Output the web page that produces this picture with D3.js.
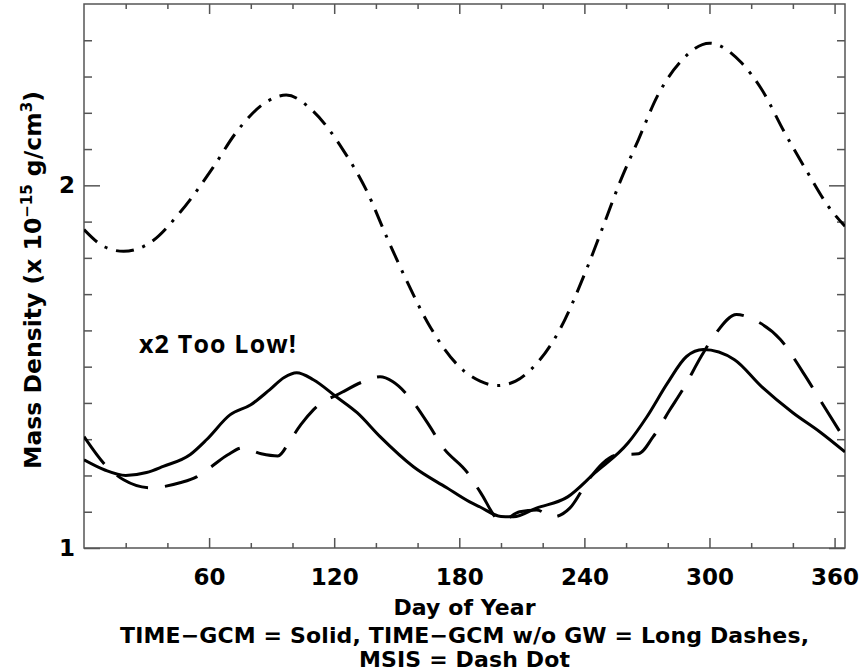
<!DOCTYPE html>
<html>
  <head>
    <title>Mass Density vs Day of Year</title>
    <script src="https://cdn.jsdelivr.net/npm/d3@7"></script>
    <style>
      body { margin: 0; background: white; }
      text { font-family: "DejaVu Sans", sans-serif; font-weight: bold; fill: black; }
      .frame { fill: none; stroke: #555; stroke-width: 1.5; }
      .tick line { stroke: #555; stroke-width: 1.5; }
      .domain { display: none; }
      .series { fill: none; stroke: black; stroke-width: 3; }
    </style>
  </head>
  <body>
    <svg id="chart" width="860" height="671"></svg>
    <script>
      // TIME-GCM (solid)
      const gcmDay = [0, 10, 20, 30, 38, 51, 59, 70, 80, 89, 96, 102, 110, 121, 131, 142, 158, 174, 185, 190, 200, 206, 217, 232, 245, 261, 270, 280, 289, 297, 312, 325, 340, 353, 365];
      const gcmVal = [1.243, 1.215, 1.2, 1.208, 1.225, 1.258, 1.3, 1.367, 1.395, 1.436, 1.47, 1.483, 1.464, 1.417, 1.373, 1.307, 1.224, 1.166, 1.127, 1.113, 1.087, 1.086, 1.11, 1.141, 1.207, 1.29, 1.362, 1.456, 1.528, 1.547, 1.519, 1.445, 1.373, 1.32, 1.265];

      // TIME-GCM without gravity waves (long dashes)
      const noGwDay = [0, 11, 19, 32, 46, 54, 61, 69, 76, 85, 93, 99, 104, 110, 124, 134, 142, 148, 157, 166, 172, 184, 190, 200, 209, 217, 225, 233, 242, 249, 256, 266, 273, 281, 288, 296, 302, 313, 321, 334, 345, 355, 365];
      const noGwVal = [1.307, 1.224, 1.188, 1.166, 1.18, 1.196, 1.224, 1.257, 1.276, 1.26, 1.254, 1.298, 1.34, 1.381, 1.43, 1.459, 1.472, 1.459, 1.409, 1.334, 1.279, 1.207, 1.155, 1.075, 1.1, 1.105, 1.086, 1.11, 1.188, 1.235, 1.257, 1.26, 1.307, 1.381, 1.445, 1.528, 1.583, 1.644, 1.63, 1.575, 1.483, 1.39, 1.298];

      // MSIS (dash dot)
      const msisDay = [0, 10, 19, 32, 46, 62, 73, 88, 97, 110, 124, 136, 145, 154, 165, 180, 190, 198, 207, 214, 228, 241, 249, 257, 266, 275, 286, 300, 315, 325, 336, 347, 357, 365];
      const msisVal = [1.878, 1.83, 1.818, 1.843, 1.925, 2.05, 2.146, 2.232, 2.249, 2.204, 2.1, 1.98, 1.86, 1.746, 1.62, 1.5, 1.46, 1.448, 1.46, 1.49, 1.6, 1.768, 1.887, 2.008, 2.127, 2.246, 2.34, 2.392, 2.34, 2.265, 2.146, 2.036, 1.942, 1.887];

      const xMajor = [60, 120, 180, 240, 300, 360];
      const yMajor = [1, 2];

      const svg = d3.select("#chart");
      const plotLeft = 84, plotRight = 845, plotTop = 4, plotBottom = 548;

      const x = d3.scaleLinear().domain([0, 365]).range([plotLeft, plotRight]);
      const y = d3.scaleLinear().domain([1, 2.5]).range([plotBottom, plotTop]);

      // ticks, IDL style: all pointing inward, mirrored on the opposite side
      const xMinor = d3.range(20, 365, 20).filter((d) => d % 60 !== 0);
      const yMinor = d3.range(11, 25).map((k) => k / 10).filter((v) => Math.abs(v - 2) > 1e-6);

      svg.append("g").attr("transform", `translate(0,${plotBottom})`)
        .call(d3.axisBottom(x).tickValues(xMinor).tickSize(-5).tickFormat(""));
      svg.append("g").attr("transform", `translate(0,${plotBottom})`)
        .call(d3.axisBottom(x).tickValues(xMajor).tickSize(-10).tickPadding(21))
        .selectAll("text").attr("font-size", 23);
      svg.append("g").attr("transform", `translate(0,${plotTop})`)
        .call(d3.axisTop(x).tickValues(xMinor).tickSize(-5).tickFormat(""));
      svg.append("g").attr("transform", `translate(0,${plotTop})`)
        .call(d3.axisTop(x).tickValues(xMajor).tickSize(-10).tickFormat(""));

      svg.append("g").attr("transform", `translate(${plotLeft},0)`)
        .call(d3.axisLeft(y).tickValues(yMinor).tickSize(-8).tickFormat(""));
      svg.append("g").attr("transform", `translate(${plotLeft},0)`)
        .call(d3.axisLeft(y).tickValues(yMajor).tickSize(-16).tickPadding(9).tickFormat(d3.format("d")))
        .selectAll("text").attr("font-size", 23);
      svg.append("g").attr("transform", `translate(${plotRight},0)`)
        .call(d3.axisRight(y).tickValues(yMinor).tickSize(-8).tickFormat(""));
      svg.append("g").attr("transform", `translate(${plotRight},0)`)
        .call(d3.axisRight(y).tickValues(yMajor).tickSize(-16).tickFormat(""));

      svg.append("rect").attr("class", "frame")
        .attr("x", plotLeft).attr("y", plotTop)
        .attr("width", plotRight - plotLeft).attr("height", plotBottom - plotTop);

      // series
      svg.append("clipPath").attr("id", "plot")
        .append("rect").attr("x", plotLeft).attr("y", plotTop)
        .attr("width", plotRight - plotLeft).attr("height", plotBottom - plotTop);

      const line = d3.line()
        .x((d) => x(d[0]))
        .y((d) => y(d[1]))
        .curve(d3.curveMonotoneX);

      const series = [
        { days: gcmDay, vals: gcmVal, dash: null },
        { days: noGwDay, vals: noGwVal, dash: "34,17" },
        { days: msisDay, vals: msisVal, dash: "18,9,3,9" }
      ];

      svg.append("g").attr("clip-path", "url(#plot)")
        .selectAll("path")
        .data(series)
        .enter()
        .append("path")
        .attr("class", "series")
        .attr("d", (s) => line(d3.zip(s.days, s.vals)))
        .attr("stroke-dasharray", (s) => s.dash);

      // annotation
      svg.append("text")
        .attr("x", 139).attr("y", 353)
        .attr("font-size", 25)
        .attr("textLength", 157)
        .style("font-family", '"Open Sans", sans-serif')
        .text("x2 Too Low!");

      // axis titles
      const cx = (plotLeft + plotRight) / 2;
      svg.append("text")
        .attr("x", cx).attr("y", 615).attr("text-anchor", "middle")
        .attr("font-size", 22).attr("textLength", 142)
        .text("Day of Year");
      svg.append("text")
        .attr("x", cx).attr("y", 643).attr("text-anchor", "middle")
        .attr("font-size", 22).attr("textLength", 689)
        .text("TIME\u2212GCM = Solid, TIME\u2212GCM w/o GW = Long Dashes,");
      svg.append("text")
        .attr("x", cx).attr("y", 667).attr("text-anchor", "middle")
        .attr("font-size", 22).attr("textLength", 211)
        .text("MSIS = Dash Dot");

      const yTitle = svg.append("text")
        .attr("transform", "translate(41,280) rotate(-90)")
        .attr("text-anchor", "middle")
        .attr("font-size", 23.5);
      yTitle.append("tspan").text("Mass Density (x 10");
      yTitle.append("tspan").attr("baseline-shift", "super").attr("font-size", 15).text("\u221215");
      yTitle.append("tspan").text(" g/cm");
      yTitle.append("tspan").attr("baseline-shift", "super").attr("font-size", 15).text("3");
      yTitle.append("tspan").text(")");
    </script>
  </body>
</html>
